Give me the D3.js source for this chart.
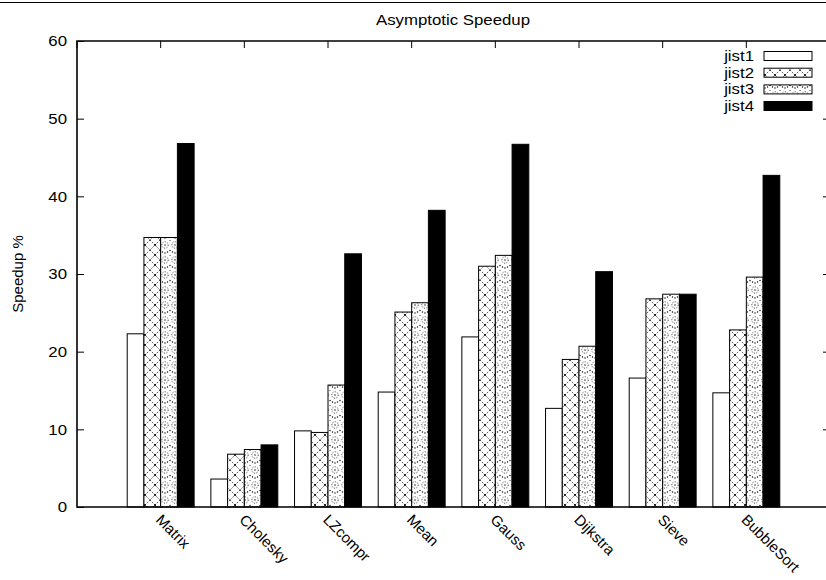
<!DOCTYPE html>
<html>
<head>
<meta charset="utf-8">
<script src="https://cdn.jsdelivr.net/npm/d3@7"></script>
<style>
  html, body { margin: 0; padding: 0; background: #fff; }
  svg { display: block; }
  text { font-family: "Liberation Sans", Arial, Helvetica, sans-serif; fill: #000; }
</style>
</head>
<body>
<svg id="chart" width="826" height="580"></svg>
<script>
const categories = ["Matrix", "Cholesky", "LZcompr", "Mean", "Gauss", "Dijkstra", "Sieve", "BubbleSort"];
const seriesNames = ["jist1", "jist2", "jist3", "jist4"];
const jist1 = [22.3, 3.6, 9.8, 14.8, 21.9, 12.7, 16.6, 14.7];
const jist2 = [34.7, 6.8, 9.6, 25.1, 31.0, 19.0, 26.8, 22.8];
const jist3 = [34.7, 7.4, 15.7, 26.3, 32.4, 20.7, 27.4, 29.6];
const jist4 = [46.8, 8.0, 32.6, 38.2, 46.7, 30.3, 27.4, 42.7];
const seriesValues = [jist1, jist2, jist3, jist4];
const yTicks = [0, 10, 20, 30, 40, 50, 60];
const titleText = "Asymptotic Speedup";
const yLabelText = "Speedup %";

(function () {
const svg = d3.select("#chart");
const W = 826, H = 580;
const mLeft = 77, mRight = 830, mTop = 41, mBottom = 507;
const SX = 1.2; // horizontal stretch of text seen in the reference

// patterns
const defs = svg.append("defs");
const p2 = defs.append("pattern").attr("id", "pat2").attr("patternUnits", "userSpaceOnUse")
  .attr("width", 10).attr("height", 10);
p2.append("rect").attr("width", 10).attr("height", 10).attr("fill", "#fff");
p2.append("path").attr("d", "M0,0L10,10M10,0L0,10").attr("stroke", "#000")
  .attr("stroke-width", 0.7).attr("stroke-dasharray", "1.6,1.4").attr("fill", "none");
p2.append("path").attr("d", "M4.2,4.2L5.8,5.8M5.8,4.2L4.2,5.8").attr("stroke", "#000").attr("stroke-width", 0.9);

const p3 = defs.append("pattern").attr("id", "pat3").attr("patternUnits", "userSpaceOnUse")
  .attr("width", 10).attr("height", 15);
p3.append("rect").attr("width", 10).attr("height", 15).attr("fill", "#fff");
p3.append("circle").attr("cx", 5).attr("cy", 5).attr("r", 3.2).attr("fill", "none")
  .attr("stroke", "#000").attr("stroke-width", 0.8).attr("stroke-dasharray", "1,1.4");
[[5, 5], [0, 10.5], [10, 10.5], [5, 13], [2.5, 12], [7.5, 12], [0, 0], [10, 0]].forEach(([cx, cy]) => {
  p3.append("rect").attr("x", cx - 0.6).attr("y", cy - 0.6).attr("width", 1.2).attr("height", 1.2).attr("fill", "#000");
});

const fills = ["#fff", "url(#pat2)", "url(#pat3)", "#000"];

const x = d3.scaleLinear().domain([-1, 8]).range([mLeft, mRight]);
const y = d3.scaleLinear().domain([0, 60]).range([mBottom, mTop]);
const unit = x(1) - x(0);
const bw = unit / 5;

// top page line
svg.append("line").attr("x1", 0).attr("x2", W).attr("y1", 2.5).attr("y2", 2.5)
  .attr("stroke", "#000").attr("stroke-width", 1);

// title
svg.append("text").attr("transform", `translate(453,25) scale(${SX},1)`).attr("text-anchor", "middle")
  .attr("font-size", 14).text(titleText);

// bars
const g = svg.append("g");
seriesValues.forEach((vals, j) => {
  g.selectAll(null).data(vals).enter().append("rect")
    .attr("x", (d, i) => x(i) + (j - 2) * bw)
    .attr("width", bw)
    .attr("y", d => y(d))
    .attr("height", d => y(0) - y(d))
    .attr("fill", fills[j])
    .attr("stroke", "#000")
    .attr("stroke-width", 1);
});

// frame
svg.append("path")
  .attr("d", `M${W + 5},${mTop}L${mLeft},${mTop}L${mLeft},${mBottom}L${W + 5},${mBottom}`)
  .attr("fill", "none").attr("stroke", "#000").attr("stroke-width", 1.6);

// y ticks (left and right)
const yAxisL = d3.axisLeft(y).tickValues(yTicks).tickSize(-7).tickPadding(10).tickFormat(d3.format("d"));
const gl = svg.append("g").attr("transform", `translate(${mLeft},0)`).call(yAxisL);
gl.select(".domain").remove();
gl.selectAll("line").attr("stroke", "#000").attr("stroke-width", 1);
gl.selectAll("text").attr("font-size", 14).attr("dy", "0.35em").attr("x", 0)
  .attr("transform", `translate(-10,0) scale(${SX},1)`)
  .style("font-family", '"Liberation Sans", Arial, sans-serif');

const yAxisR = d3.axisRight(y).tickValues(yTicks.slice(1, -1)).tickSize(-7).tickFormat("");
const gr = svg.append("g").attr("transform", `translate(${mRight},0)`).call(yAxisR);
gr.select(".domain").remove();
gr.selectAll("line").attr("stroke", "#000").attr("stroke-width", 1);

// top ticks
const topTicks = d3.range(-1, 9);
svg.append("g").selectAll("line").data(topTicks).enter().append("line")
  .attr("x1", d => x(d)).attr("x2", d => x(d))
  .attr("y1", mTop).attr("y2", mTop + 7)
  .attr("stroke", "#000").attr("stroke-width", 1);

// x labels rotated
svg.append("g").selectAll("text").data(categories).enter().append("text")
  .attr("transform", (d, i) => `translate(${x(i) - 2},${mBottom + 10}) rotate(45)`)
  .attr("font-size", 15)
  .attr("dy", "0.35em")
  .text(d => d);

// y label
svg.append("text").attr("transform", `translate(23,${(mTop + mBottom) / 2}) rotate(-90)`)
  .attr("text-anchor", "middle").attr("font-size", 15).text(yLabelText);

// legend
const legRows = [56, 72.7, 89.4, 106];
seriesNames.forEach((name, j) => {
  svg.append("text").attr("transform", `translate(754,${legRows[j]}) scale(${SX},1)`).attr("dy", "0.35em")
    .attr("text-anchor", "end").attr("font-size", 14).text(name);
  svg.append("rect").attr("x", 764).attr("y", legRows[j] - 4.5).attr("width", 48).attr("height", 9)
    .attr("fill", fills[j]).attr("stroke", "#000").attr("stroke-width", 1);
});
})();
</script>
</body>
</html>
